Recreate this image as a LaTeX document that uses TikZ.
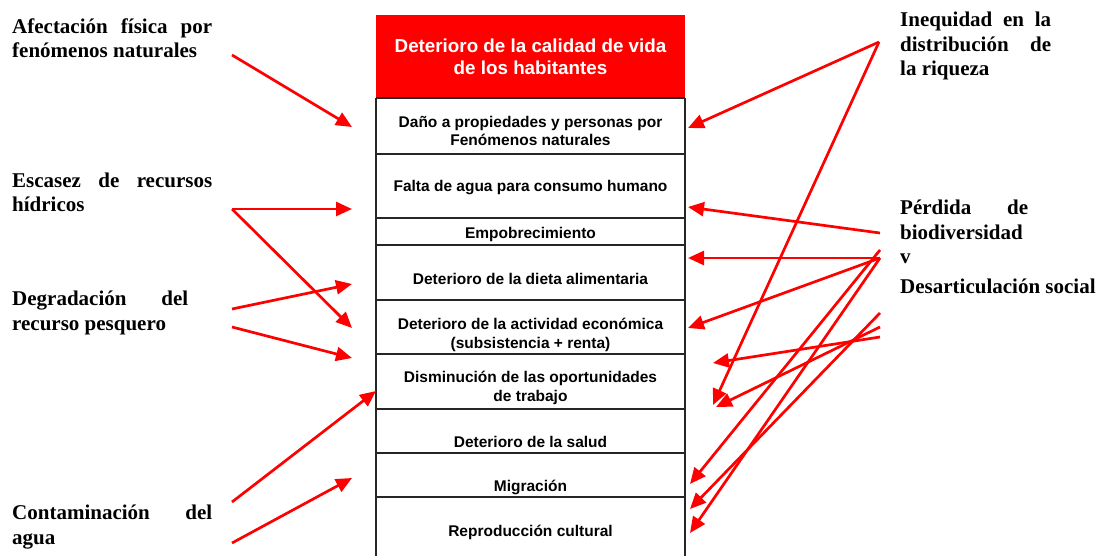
\documentclass[tikz,border=0pt]{standalone}
\usepackage{fontspec}
\setmainfont{Liberation Serif}
\newfontfamily\boxfont{Liberation Sans}
\usetikzlibrary{arrows.meta}

\begin{document}
\begin{tikzpicture}[x=1pt,y=-1pt,
  flecha/.style={draw=red,line width=2.7pt,-{Triangle[length=16pt,width=14pt]}},
  causa/.style={anchor=base west,inner sep=0pt,align=left,font=\bfseries\fontsize{21}{24.5}\selectfont},
  efecto/.style={anchor=base,inner sep=0pt,align=center,font=\boxfont\bfseries\fontsize{15.5}{18.5}\selectfont},
  fila/.style={line width=1.2pt,black!85}]

\useasboundingbox (0,0) rectangle (1098,556);

% Red header
\fill[red] (376,15) rectangle (685,98);
\node[efecto,text=white,font=\boxfont\bfseries\fontsize{18.8}{22.5}\selectfont] (titulo) at (530.5,75)
  {Deterioro de la calidad de vida\\de los habitantes};

% Rows of the box
\draw[fila] (376,98) -- (376,560) (685,98) -- (685,560);
\foreach \y in {98,154,218,245,300,354,409,453,497}
  \draw[fila] (376,\y) -- (685,\y);

\node[efecto] (dano) at (530.5,146) {Daño a propiedades y personas por\\Fenómenos naturales};
\node[efecto] (agua) at (530.5,192) {Falta de agua para consumo humano};
\node[efecto] (empo) at (530.5,239) {Empobrecimiento};
\node[efecto] (dieta) at (530.5,284) {Deterioro de la dieta alimentaria};
\node[efecto] (econ) at (530.5,348) {Deterioro de la actividad económica\\(subsistencia + renta)};
\node[efecto] (trab) at (530.5,401) {Disminución de las oportunidades\\de trabajo};
\node[efecto] (salud) at (530.5,447) {Deterioro de la salud};
\node[efecto] (migr) at (530.5,491) {Migración};
\node[efecto] (repr) at (530.5,536) {Reproducción cultural};

% Causes, left
\node[causa] (afec-t) at (12,58) {\makebox[200pt][s]{Afectación física por}\\fenómenos naturales};
\node[causa] (esca-t) at (12,212) {\makebox[200pt][s]{Escasez de recursos}\\hídricos};
\node[causa] (degr-t) at (12,330) {\makebox[176pt][s]{Degradación del}\\recurso pesquero};
\node[causa] (cont-t) at (12,544) {\makebox[200pt][s]{Contaminación del}\\agua};

% Causes, right
\node[causa] (ineq-t) at (900,76) {\makebox[151pt][s]{Inequidad en la}\\\makebox[151pt][s]{distribución de}\\la riqueza};
\node[causa] (perd-t) at (900,294) {\makebox[128pt][s]{Pérdida de}\\biodiversidad\\v\\[5.5pt]Desarticulación social};

% Arrow ends
\coordinate (afec) at (232,55);
\coordinate (esca) at (232,209);
\coordinate (degr1) at (232,309);
\coordinate (degr2) at (232,327);
\coordinate (cont1) at (232,502);
\coordinate (cont2) at (232,543);
\coordinate (ineq) at (879,42);
\coordinate (perd1) at (880,233);
\coordinate (perd2) at (880,258);
\coordinate (perd3) at (880,250);
\coordinate (desa1) at (880,313);
\coordinate (desa2) at (880,327);
\coordinate (desa3) at (880,337);

\coordinate (dano-w) at (352,127);
\coordinate (agua-w) at (352,209);
\coordinate (dieta-w) at (352,284);
\coordinate (econ-w) at (352,328);
\coordinate (trab-w) at (352,358);
\coordinate (trab-nw) at (376,391);
\coordinate (migr-w) at (352,478);

\coordinate (dano-e) at (688,128);
\coordinate (agua-e) at (688,207);
\coordinate (dieta-e) at (688,258);
\coordinate (econ-e) at (688,328);
\coordinate (trab-e) at (713,363);
\coordinate (trab-se) at (716,407);
\coordinate (trab-s) at (713,405);
\coordinate (migr-e) at (690,484);
\coordinate (repr-ne) at (690,509);
\coordinate (repr-e) at (690,533);

% Left arrows
\draw[flecha] (afec) -- (dano-w);
\draw[flecha] (esca) -- (agua-w);
\draw[flecha] (esca) -- (econ-w);
\draw[flecha] (degr1) -- (dieta-w);
\draw[flecha] (degr2) -- (trab-w);
\draw[flecha] (cont1) -- (trab-nw);
\draw[flecha] (cont2) -- (migr-w);

% Right arrows
\draw[flecha] (ineq) -- (dano-e);
\draw[flecha] (ineq) -- (trab-s);
\draw[flecha] (perd1) -- (agua-e);
\draw[flecha] (perd2) -- (dieta-e);
\draw[flecha] (perd2) -- (econ-e);
\draw[flecha] (perd2) -- (repr-e);
\draw[flecha] (perd3) -- (migr-e);
\draw[flecha] (desa1) -- (repr-ne);
\draw[flecha] (desa2) -- (trab-se);
\draw[flecha] (desa3) -- (trab-e);

\end{tikzpicture}
\end{document}
